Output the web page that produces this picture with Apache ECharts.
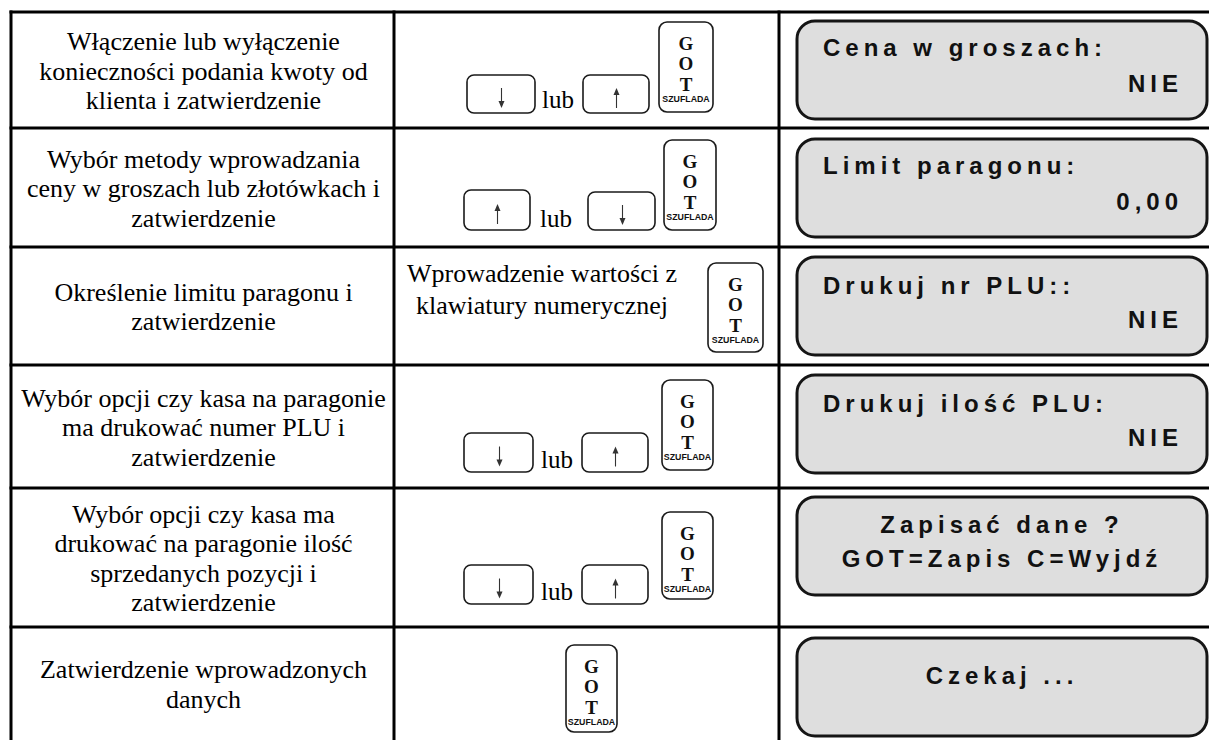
<!DOCTYPE html>
<html><head><meta charset="utf-8">
<script src="https://cdn.jsdelivr.net/npm/echarts@6/dist/echarts.min.js"></script>
<style>html,body{margin:0;padding:0;background:#fff}#main{width:1209px;height:740px}</style>
</head><body><div id="main"></div>
<script>
// ---- content ----
const stepDescriptions = [
  ['Włączenie lub wyłączenie', 'konieczności podania kwoty od', 'klienta i zatwierdzenie'],
  ['Wybór metody wprowadzania', 'ceny w groszach lub złotówkach i', 'zatwierdzenie'],
  ['Określenie limitu paragonu i', 'zatwierdzenie'],
  ['Wybór opcji czy kasa na paragonie', 'ma drukować numer PLU i', 'zatwierdzenie'],
  ['Wybór opcji czy kasa ma', 'drukować na paragonie ilość', 'sprzedanych pozycji i', 'zatwierdzenie'],
  ['Zatwierdzenie wprowadzonych', 'danych']
];
const arrowKeys = [['↓', '↑'], ['↑', '↓'], [], ['↓', '↑'], ['↓', '↑'], []];
const keyConnector = 'lub';
const numericEntryText = ['Wprowadzenie wartości z', 'klawiatury numerycznej'];
const gotKeyLetters = ['G', 'O', 'T'];
const gotKeyCaption = 'SZUFLADA';
const displayTop = ['Cena w groszach:', 'Limit paragonu:', 'Drukuj nr PLU::', 'Drukuj ilość PLU:', 'Zapisać dane ?', 'Czekaj ...'];
const displayBottom = ['NIE', '0,00', 'NIE', 'NIE', 'GOT=Zapis C=Wyjdź', ''];
const displayCentered = [false, false, false, false, true, true];

// ---- layout ----
const rowLines = [12, 128, 247, 365, 488, 627];
const tableBottom = 740;
const colX = [11, 394, 779];
const tableRight = 1209;
const midLayout = [
  {k1: [467, 75, 68, 38], lub: [542, 112], k2: [583, 75, 66, 38], got: [659, 22, 54, 90]},
  {k1: [464, 190, 66, 40], lub: [540, 231], k2: [588, 192, 67, 38], got: [664, 140, 52, 90]},
  {text: [542, 273, 305], got: [708, 263, 55, 89]},
  {k1: [464, 433, 69, 39], lub: [541, 472], k2: [582, 433, 66, 39], got: [662, 380, 51, 90]},
  {k1: [464, 565, 69, 39], lub: [541, 604], k2: [582, 565, 66, 39], got: [662, 512, 51, 87]},
  {got: [566, 645, 51, 87]}
];
const boxTops = [21, 139, 257, 375, 497, 638];
const boxX = 797, boxW = 410, boxH = 98;
const lineOffsets = [[26, 62], [26, 62], [28, 62], [28, 62], [27, 61], [37, 0]];
const LS = 5;

const SERIF = "'Liberation Serif', 'Times New Roman', serif";
const SANS = "'Liberation Sans', Arial, sans-serif";
const els = [];

// table lines
rowLines.forEach(y => els.push({type: 'line', shape: {x1: colX[0] - 1.5, y1: y, x2: tableRight, y2: y}, style: {stroke: '#000', lineWidth: 3}}));
colX.forEach(x => els.push({type: 'line', shape: {x1: x, y1: rowLines[0] - 1.5, x2: x, y2: tableBottom}, style: {stroke: '#000', lineWidth: 3}}));

// left descriptions
stepDescriptions.forEach((lines, r) => {
  const top = rowLines[r], bot = r + 1 < rowLines.length ? rowLines[r + 1] : tableBottom;
  const c = (top + bot) / 2 + 1;
  const lh = 29.5;
  lines.forEach((t, i) => {
    els.push({type: 'text', x: (colX[0] + colX[1]) / 2 + 1, y: c + (i - (lines.length - 1) / 2) * lh,
      style: {text: t, fill: '#000', font: '26px ' + SERIF, textAlign: 'center', textVerticalAlign: 'middle'}});
  });
});

function arrowKey(rect, glyph) {
  els.push({type: 'rect', shape: {x: rect[0], y: rect[1], width: rect[2], height: rect[3], r: 7},
    style: {fill: '#fff', stroke: '#1a1a1a', lineWidth: 1.6}});
  const cx = Math.round(rect[0] + rect[2] / 2) + 0.5, cy = rect[1] + rect[3] / 2;
  const yTop = cy - 6, yBot = cy + 14;
  const down = glyph === '↓';
  els.push({type: 'line', shape: {x1: cx, y1: down ? yTop : yTop + 5, x2: cx, y2: down ? yBot - 5 : yBot},
    style: {stroke: '#333', lineWidth: 1.1}});
  const tip = down ? yBot : yTop, base = down ? yBot - 7 : yTop + 7;
  els.push({type: 'polygon', shape: {points: [[cx - 3, base], [cx + 3, base], [cx, tip]]},
    style: {fill: '#333', stroke: 'none'}});
}
function gotKey(rect) {
  const [x, y, w, h] = rect;
  els.push({type: 'rect', shape: {x, y, width: w, height: h, r: 8}, style: {fill: '#fff', stroke: '#1a1a1a', lineWidth: 1.6}});
  const offs = [21, 41, 62];
  gotKeyLetters.forEach((l, i) => els.push({type: 'text', x: x + w / 2, y: y + offs[i],
    style: {text: l, fill: '#111', font: 'bold 19px ' + SERIF, textAlign: 'center', textVerticalAlign: 'middle'}}));
  els.push({type: 'text', x: x + w / 2, y: y + 77,
    style: {text: gotKeyCaption, fill: '#111', font: 'bold 8.8px ' + SANS, textAlign: 'center', textVerticalAlign: 'middle'}});
}

midLayout.forEach((m, r) => {
  const keys = arrowKeys[r];
  if (keys.length) {
    arrowKey(m.k1, keys[0]);
    arrowKey(m.k2, keys[1]);
    els.push({type: 'text', x: m.lub[0], y: m.lub[1],
      style: {text: keyConnector, fill: '#000', font: '25px ' + SERIF, textAlign: 'left', textVerticalAlign: 'bottom'}});
  }
  if (m.text) {
    numericEntryText.forEach((t, i) => els.push({type: 'text', x: m.text[0], y: m.text[1 + i],
      style: {text: t, fill: '#000', font: '26px ' + SERIF, textAlign: 'center', textVerticalAlign: 'middle'}}));
  }
  gotKey(m.got);
});

// displays
boxTops.forEach((top, r) => {
  els.push({type: 'rect', shape: {x: boxX, y: top, width: boxW, height: boxH, r: 18},
    style: {fill: '#dedede', stroke: '#151515', lineWidth: 3}});
  const [o1, o2] = lineOffsets[r];
  const font = 'bold 24px ' + SANS;
  if (displayCentered[r]) {
    const cx = boxX + boxW / 2;
    els.push({type: 'text', x: cx, y: top + o1, style: {text: displayTop[r], fill: '#111', font, textAlign: 'center', textVerticalAlign: 'middle'}});
    if (displayBottom[r]) els.push({type: 'text', x: cx, y: top + o2, style: {text: displayBottom[r], fill: '#111', font, textAlign: 'center', textVerticalAlign: 'middle'}});
  } else {
    els.push({type: 'text', x: 823, y: top + o1, style: {text: displayTop[r], fill: '#111', font, textAlign: 'left', textVerticalAlign: 'middle'}});
    els.push({type: 'text', x: 1178 + LS, y: top + o2, style: {text: displayBottom[r], fill: '#111', font, textAlign: 'right', textVerticalAlign: 'middle'}});
  }
});

const chart = echarts.init(document.getElementById('main'), null, {renderer: 'svg'});
chart.setOption({animation: false, backgroundColor: '#fff', graphic: {elements: els}});

const spaced = new Set(displayTop.concat(displayBottom).filter(Boolean));
function applySpacing() {
  document.querySelectorAll('#main text').forEach(t => {
    if (spaced.has(t.textContent)) t.setAttribute('letter-spacing', LS + 'px');
  });
}
applySpacing();
chart.on('finished', applySpacing);
setTimeout(applySpacing, 50);
</script></body></html>
